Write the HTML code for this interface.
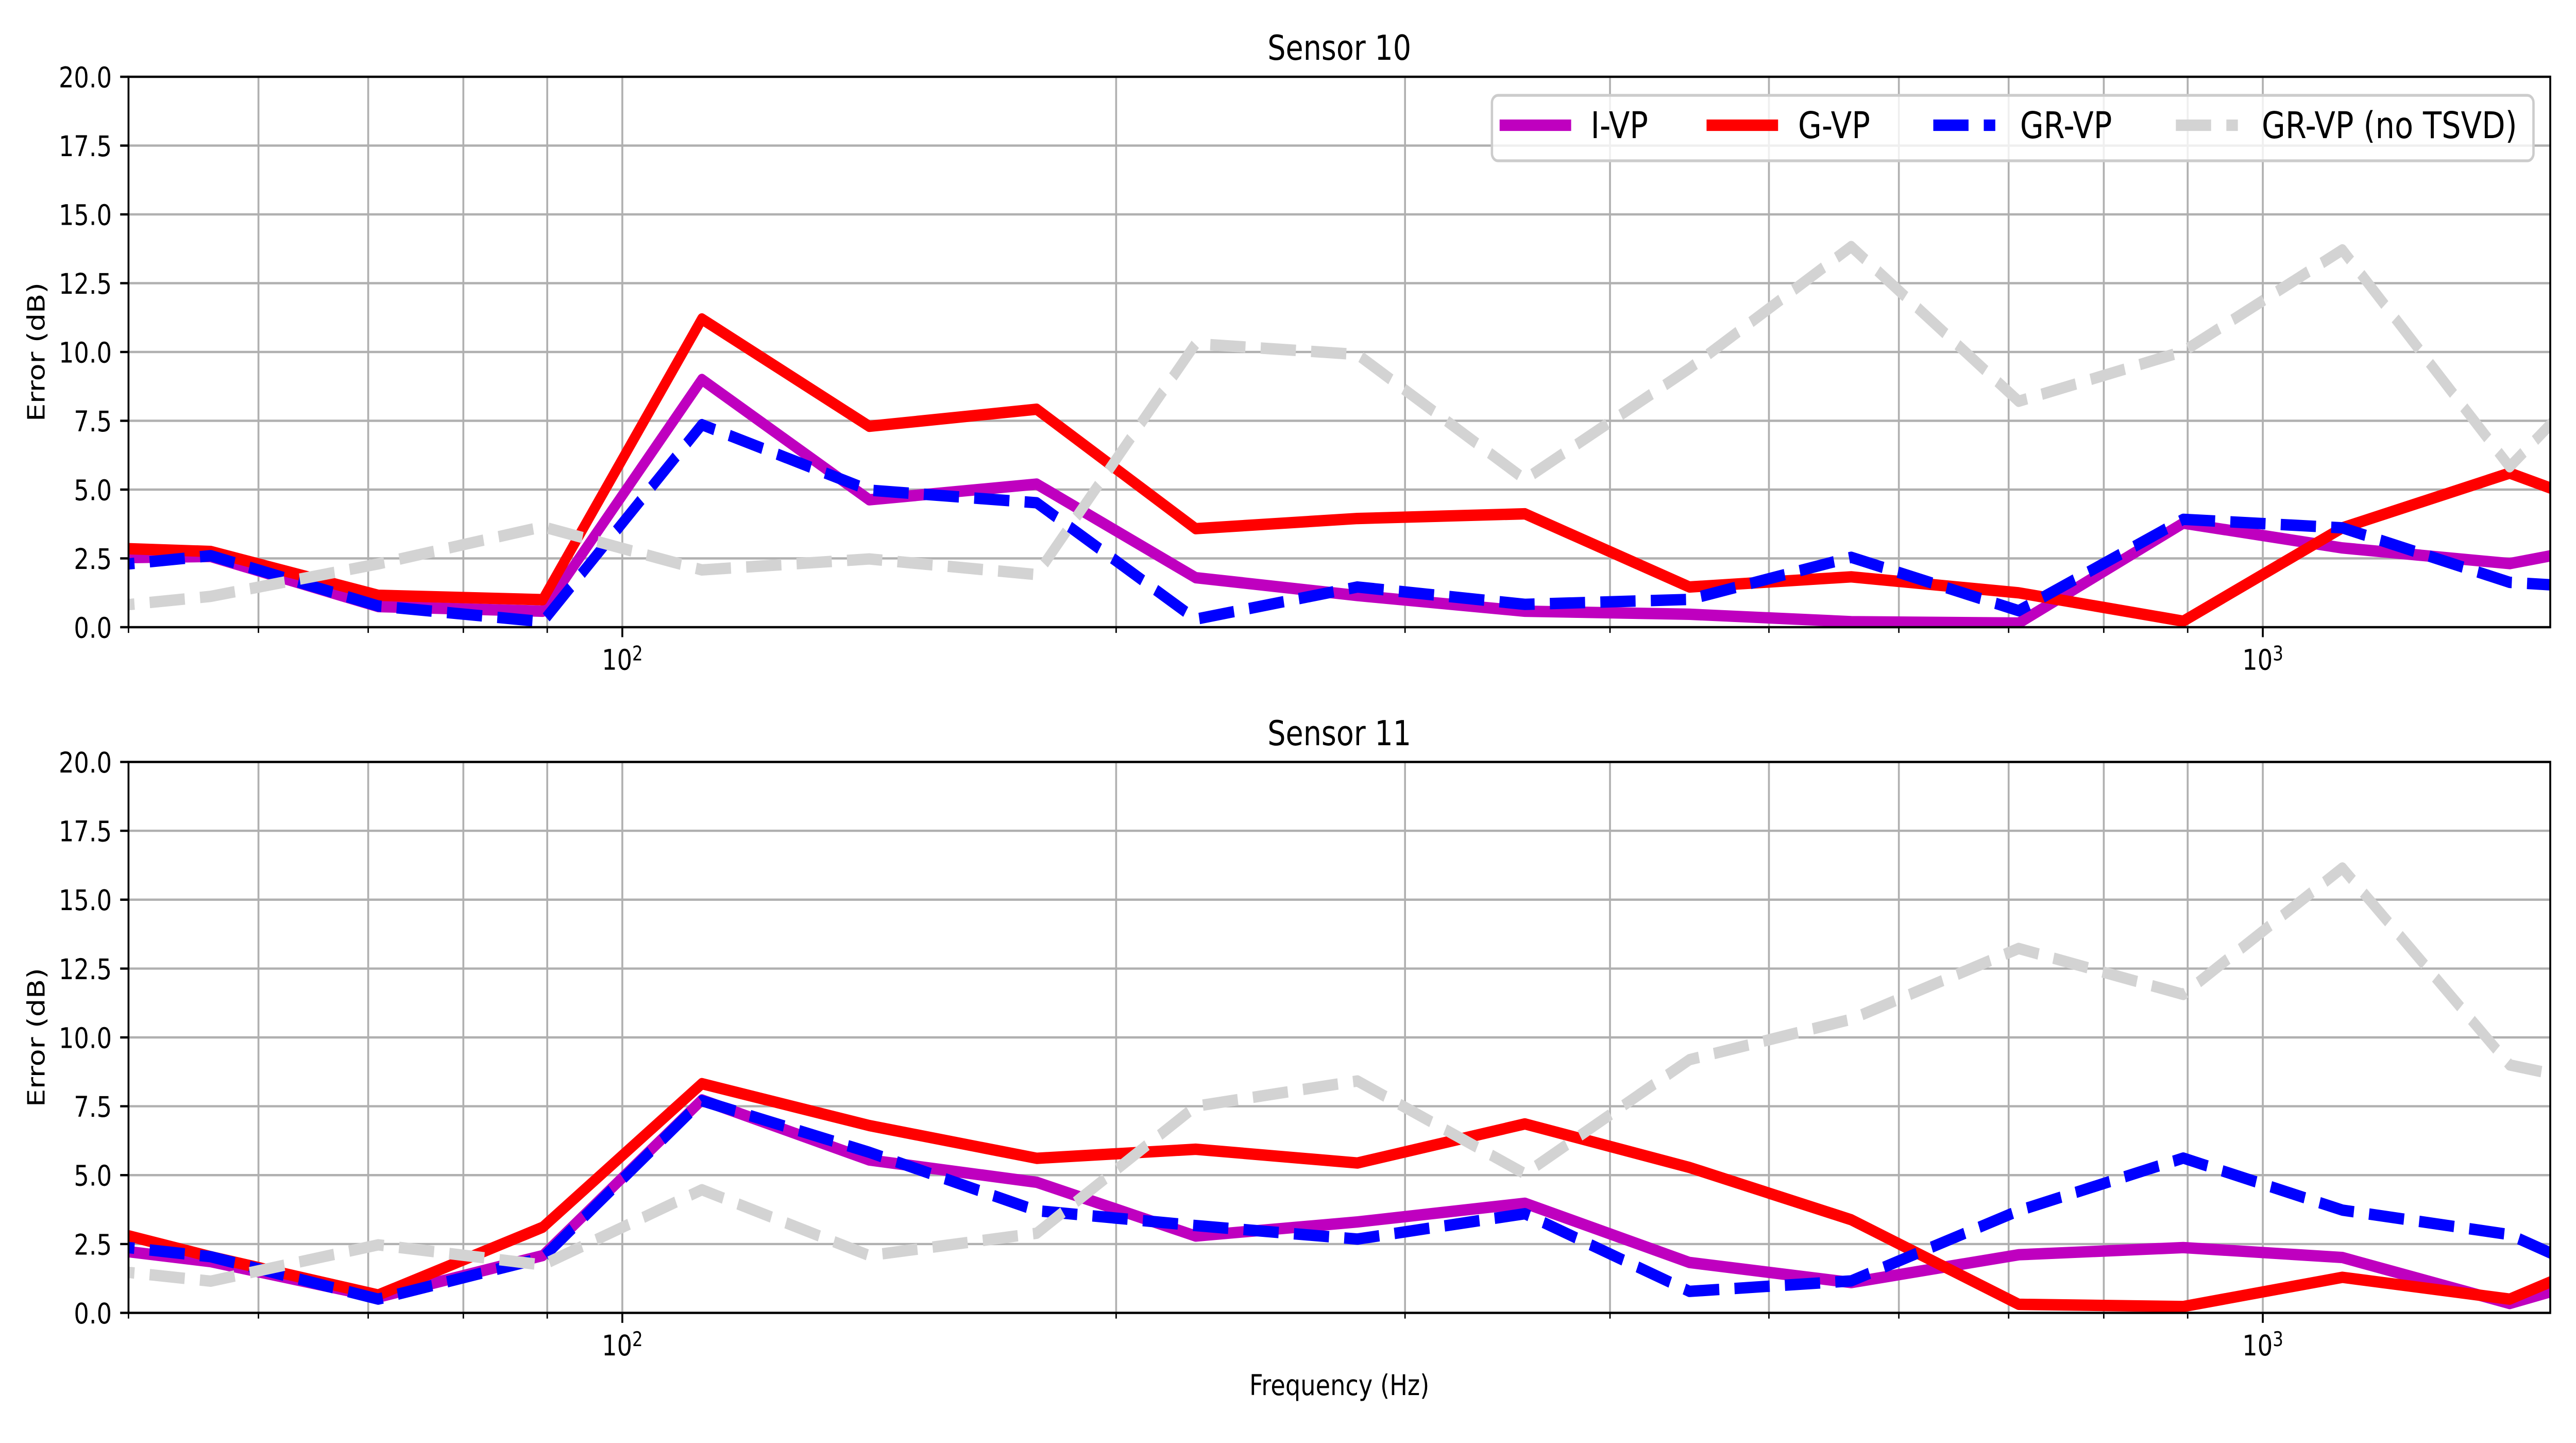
<!DOCTYPE html>
<html>
<head>
<meta charset="utf-8">
<style>
html,body{margin:0;padding:0;background:#fff;width:100%;height:100%;overflow:hidden;}
svg{display:block;width:100vw;height:100vh;}
text{font-family:"DejaVu Sans","Liberation Sans",sans-serif;fill:#000;}
</style>
</head>
<body>
<svg viewBox="0 0 6000 2800" preserveAspectRatio="none" xmlns="http://www.w3.org/2000/svg">
<rect x="0" y="0" width="6000" height="2800" fill="#fff"/>
<defs>
  <clipPath id="c1"><rect x="299.3" y="149" width="5640.7" height="1068"/></clipPath>
  <clipPath id="c2"><rect x="299.3" y="1478.5" width="5640.7" height="1069"/></clipPath>
</defs>

<!-- ============ TOP AXES ============ -->
<g stroke="#b0b0b0" stroke-width="4.4" fill="none">
  <line x1="299.3" x2="5940" y1="1217" y2="1217"/>
  <line x1="299.3" x2="5940" y1="1083.5" y2="1083.5"/>
  <line x1="299.3" x2="5940" y1="950" y2="950"/>
  <line x1="299.3" x2="5940" y1="816.5" y2="816.5"/>
  <line x1="299.3" x2="5940" y1="683" y2="683"/>
  <line x1="299.3" x2="5940" y1="549.5" y2="549.5"/>
  <line x1="299.3" x2="5940" y1="416" y2="416"/>
  <line x1="299.3" x2="5940" y1="282.5" y2="282.5"/>
  <line x1="299.3" x2="5940" y1="149" y2="149"/>
  <line y1="149" y2="1217" x1="602" x2="602"/>
  <line y1="149" y2="1217" x1="857.6" x2="857.6"/>
  <line y1="149" y2="1217" x1="1079.2" x2="1079.2"/>
  <line y1="149" y2="1217" x1="1274.6" x2="1274.6"/>
  <line y1="149" y2="1217" x1="1449.5" x2="1449.5"/>
  <line y1="149" y2="1217" x1="2599.7" x2="2599.7"/>
  <line y1="149" y2="1217" x1="3272.6" x2="3272.6"/>
  <line y1="149" y2="1217" x1="3750" x2="3750"/>
  <line y1="149" y2="1217" x1="4120.2" x2="4120.2"/>
  <line y1="149" y2="1217" x1="4422.8" x2="4422.8"/>
  <line y1="149" y2="1217" x1="4678.5" x2="4678.5"/>
  <line y1="149" y2="1217" x1="4900.1" x2="4900.1"/>
  <line y1="149" y2="1217" x1="5095.5" x2="5095.5"/>
  <line y1="149" y2="1217" x1="5270.5" x2="5270.5"/>
</g>

<g clip-path="url(#c1)" fill="none" stroke-width="22.2" stroke-linejoin="round">
  <polyline stroke="#bf00bf" stroke-linecap="square" points="114.2,1084 490.8,1079.8 880.9,1177 1264.2,1186 1634.8,736.4 2024.6,969.8 2414.7,939.3 2784.9,1120.9 3161.7,1155.6 3551.8,1186 3935,1191.9 4311.8,1206.3 4701.9,1209 5085.2,1015.1 5455.8,1063.2 5845.5,1093.6 6235.5,1031.7"/>
  <polyline stroke="#ff0000" stroke-linecap="square" points="114.2,1059.5 490.8,1070.1 880.9,1155.1 1264.2,1163.6 1634.8,618.9 2024.6,827.2 2414.7,794.1 2784.9,1025.8 3161.7,1006.1 3551.8,997 3935,1139 4311.8,1119.3 4701.9,1150.3 5085.2,1205.3 5455.8,1024.2 5845.5,918 6235.5,1037"/>
  <polyline stroke="#0000ff" stroke-linecap="butt" stroke-dasharray="82.1 35.5" points="114.2,1109.7 490.8,1078.2 880.9,1175.9 1264.2,1206.3 1634.8,824 2024.6,951.1 2414.7,975.6 2784.9,1201.5 3161.7,1139 3551.8,1172.7 3935,1163.1 4311.8,1081.4 4701.9,1185 5085.2,1007.7 5455.8,1024.2 5845.5,1130 6235.5,1149.7"/>
  <polyline stroke="#d3d3d3" stroke-linecap="butt" stroke-dasharray="82.1 35.5" points="114.2,1188.7 490.8,1157.2 880.9,1094.2 1264.2,1022.1 1634.8,1105.9 2024.6,1084.6 2414.7,1115 2784.9,667 3161.7,687.8 3551.8,930.2 3935,715 4311.8,478.5 4701.9,778.6 5085.2,681.9 5455.8,484.9 5845.5,905.7 6235.5,568.2"/>
</g>

<g stroke="#000" stroke-width="4.4">
  <line x1="279.9" x2="299.3" y1="1217" y2="1217"/>
  <line x1="279.9" x2="299.3" y1="1083.5" y2="1083.5"/>
  <line x1="279.9" x2="299.3" y1="950" y2="950"/>
  <line x1="279.9" x2="299.3" y1="816.5" y2="816.5"/>
  <line x1="279.9" x2="299.3" y1="683" y2="683"/>
  <line x1="279.9" x2="299.3" y1="549.5" y2="549.5"/>
  <line x1="279.9" x2="299.3" y1="416" y2="416"/>
  <line x1="279.9" x2="299.3" y1="282.5" y2="282.5"/>
  <line x1="279.9" x2="299.3" y1="149" y2="149"/>
  <line y1="1217" y2="1236.4" x1="1449.5" x2="1449.5"/>
  <line y1="1217" y2="1236.4" x1="5270.5" x2="5270.5"/>
</g>
<g stroke="#000" stroke-width="3.3">
  <line y1="1217" y2="1228.1" x1="299.3" x2="299.3"/>
  <line y1="1217" y2="1228.1" x1="602" x2="602"/>
  <line y1="1217" y2="1228.1" x1="857.6" x2="857.6"/>
  <line y1="1217" y2="1228.1" x1="1079.2" x2="1079.2"/>
  <line y1="1217" y2="1228.1" x1="1274.6" x2="1274.6"/>
  <line y1="1217" y2="1228.1" x1="2599.7" x2="2599.7"/>
  <line y1="1217" y2="1228.1" x1="3272.6" x2="3272.6"/>
  <line y1="1217" y2="1228.1" x1="3750" x2="3750"/>
  <line y1="1217" y2="1228.1" x1="4120.2" x2="4120.2"/>
  <line y1="1217" y2="1228.1" x1="4422.8" x2="4422.8"/>
  <line y1="1217" y2="1228.1" x1="4678.5" x2="4678.5"/>
  <line y1="1217" y2="1228.1" x1="4900.1" x2="4900.1"/>
  <line y1="1217" y2="1228.1" x1="5095.5" x2="5095.5"/>
</g>
<rect x="299.3" y="149" width="5640.7" height="1068" fill="none" stroke="#000" stroke-width="4.4"/>

<g font-size="55.6" text-anchor="end">
  <text x="260.5" y="1237.5">0.0</text>
  <text x="260.5" y="1104">2.5</text>
  <text x="260.5" y="970.5">5.0</text>
  <text x="260.5" y="837">7.5</text>
  <text x="260.5" y="703.5">10.0</text>
  <text x="260.5" y="570">12.5</text>
  <text x="260.5" y="436.5">15.0</text>
  <text x="260.5" y="303">17.5</text>
  <text x="260.5" y="169.5">20.0</text>
</g>
<g font-size="55.6" text-anchor="middle">
  <text x="1449.5" y="1299.5">10<tspan dy="-18" font-size="39">2</tspan></text>
  <text x="5270.5" y="1299.5">10<tspan dy="-18" font-size="39">3</tspan></text>
</g>
<text font-size="55.6" text-anchor="middle" transform="translate(104,683) rotate(-90)">Error (dB)</text>
<text x="3119.6" y="116" font-size="66.7" text-anchor="middle">Sensor 10</text>

<!-- legend -->
<rect x="3475" y="185" width="2426" height="127" rx="14.4" ry="14.4" fill="#ffffff" fill-opacity="0.8" stroke="#cccccc" stroke-width="5.5"/>
<g stroke-width="22.2" fill="none">
  <line x1="3504" x2="3648.4" y1="243" y2="243" stroke="#bf00bf" stroke-linecap="square"/>
  <line x1="3986" x2="4130.4" y1="243" y2="243" stroke="#ff0000" stroke-linecap="square"/>
  <line x1="4503" x2="4647.4" y1="243" y2="243" stroke="#0000ff" stroke-dasharray="82.1 35.5"/>
  <line x1="5068" x2="5212.4" y1="243" y2="243" stroke="#d3d3d3" stroke-dasharray="82.1 35.5"/>
</g>
<g font-size="71">
  <text x="3705" y="268">I-VP</text>
  <text x="4188" y="268">G-VP</text>
  <text x="4705" y="268">GR-VP</text>
  <text x="5268" y="268">GR-VP (no TSVD)</text>
</g>

<!-- ============ BOTTOM AXES ============ -->
<g stroke="#b0b0b0" stroke-width="4.4" fill="none">
  <line x1="299.3" x2="5940" y1="2547.5" y2="2547.5"/>
  <line x1="299.3" x2="5940" y1="2413.9" y2="2413.9"/>
  <line x1="299.3" x2="5940" y1="2280.25" y2="2280.25"/>
  <line x1="299.3" x2="5940" y1="2146.6" y2="2146.6"/>
  <line x1="299.3" x2="5940" y1="2013" y2="2013"/>
  <line x1="299.3" x2="5940" y1="1879.4" y2="1879.4"/>
  <line x1="299.3" x2="5940" y1="1745.75" y2="1745.75"/>
  <line x1="299.3" x2="5940" y1="1612.1" y2="1612.1"/>
  <line x1="299.3" x2="5940" y1="1478.5" y2="1478.5"/>
  <line y1="1478.5" y2="2547.5" x1="602" x2="602"/>
  <line y1="1478.5" y2="2547.5" x1="857.6" x2="857.6"/>
  <line y1="1478.5" y2="2547.5" x1="1079.2" x2="1079.2"/>
  <line y1="1478.5" y2="2547.5" x1="1274.6" x2="1274.6"/>
  <line y1="1478.5" y2="2547.5" x1="1449.5" x2="1449.5"/>
  <line y1="1478.5" y2="2547.5" x1="2599.7" x2="2599.7"/>
  <line y1="1478.5" y2="2547.5" x1="3272.6" x2="3272.6"/>
  <line y1="1478.5" y2="2547.5" x1="3750" x2="3750"/>
  <line y1="1478.5" y2="2547.5" x1="4120.2" x2="4120.2"/>
  <line y1="1478.5" y2="2547.5" x1="4422.8" x2="4422.8"/>
  <line y1="1478.5" y2="2547.5" x1="4678.5" x2="4678.5"/>
  <line y1="1478.5" y2="2547.5" x1="4900.1" x2="4900.1"/>
  <line y1="1478.5" y2="2547.5" x1="5095.5" x2="5095.5"/>
  <line y1="1478.5" y2="2547.5" x1="5270.5" x2="5270.5"/>
</g>

<g clip-path="url(#c2)" fill="none" stroke-width="22.2" stroke-linejoin="round">
  <polyline stroke="#bf00bf" stroke-linecap="square" points="114.2,2410.1 490.8,2448.1 880.9,2517 1264.2,2436.3 1634.8,2134.3 2024.6,2250.9 2414.7,2294.1 2784.9,2398.4 3161.7,2371.1 3551.8,2334.8 3935,2449.7 4311.8,2488.7 4701.9,2434.7 5085.2,2420.8 5455.8,2440.1 5845.5,2529.3 6235.5,2436.3"/>
  <polyline stroke="#ff0000" stroke-linecap="square" points="114.2,2358.8 490.8,2438.5 880.9,2512.8 1264.2,2381.3 1634.8,2102.8 2024.6,2184 2414.7,2247.6 2784.9,2230 3161.7,2256.7 3551.8,2180.8 3935,2265.3 4311.8,2366.8 4701.9,2530.9 5085.2,2535.2 5455.8,2478.5 5845.5,2520.8 6235.5,2383.9"/>
  <polyline stroke="#0000ff" stroke-linecap="butt" stroke-dasharray="82.1 35.5" points="114.2,2403.7 490.8,2438.5 880.9,2520.8 1264.2,2440.6 1634.8,2135.9 2024.6,2235.9 2414.7,2349.2 2784.9,2378.1 3161.7,2404.3 3551.8,2355.1 3935,2505.8 4311.8,2485.5 4701.9,2349.2 5085.2,2247.1 5455.8,2348.1 5845.5,2395.7 6235.5,2541.6"/>
  <polyline stroke="#d3d3d3" stroke-linecap="butt" stroke-dasharray="82.1 35.5" points="114.2,2452.4 490.8,2486 880.9,2415.5 1264.2,2454.5 1634.8,2308.6 2024.6,2436.3 2414.7,2393 2784.9,2146.6 3161.7,2097.5 3551.8,2277.6 3935,2056.3 4311.8,1977.7 4701.9,1840.4 5085.2,1929.6 5455.8,1684.3 5845.5,2066.4 6235.5,2134.9"/>
</g>

<g stroke="#000" stroke-width="4.4">
  <line x1="279.9" x2="299.3" y1="2547.5" y2="2547.5"/>
  <line x1="279.9" x2="299.3" y1="2413.9" y2="2413.9"/>
  <line x1="279.9" x2="299.3" y1="2280.25" y2="2280.25"/>
  <line x1="279.9" x2="299.3" y1="2146.6" y2="2146.6"/>
  <line x1="279.9" x2="299.3" y1="2013" y2="2013"/>
  <line x1="279.9" x2="299.3" y1="1879.4" y2="1879.4"/>
  <line x1="279.9" x2="299.3" y1="1745.75" y2="1745.75"/>
  <line x1="279.9" x2="299.3" y1="1612.1" y2="1612.1"/>
  <line x1="279.9" x2="299.3" y1="1478.5" y2="1478.5"/>
  <line y1="2547.5" y2="2566.9" x1="1449.5" x2="1449.5"/>
  <line y1="2547.5" y2="2566.9" x1="5270.5" x2="5270.5"/>
</g>
<g stroke="#000" stroke-width="3.3">
  <line y1="2547.5" y2="2558.6" x1="299.3" x2="299.3"/>
  <line y1="2547.5" y2="2558.6" x1="602" x2="602"/>
  <line y1="2547.5" y2="2558.6" x1="857.6" x2="857.6"/>
  <line y1="2547.5" y2="2558.6" x1="1079.2" x2="1079.2"/>
  <line y1="2547.5" y2="2558.6" x1="1274.6" x2="1274.6"/>
  <line y1="2547.5" y2="2558.6" x1="2599.7" x2="2599.7"/>
  <line y1="2547.5" y2="2558.6" x1="3272.6" x2="3272.6"/>
  <line y1="2547.5" y2="2558.6" x1="3750" x2="3750"/>
  <line y1="2547.5" y2="2558.6" x1="4120.2" x2="4120.2"/>
  <line y1="2547.5" y2="2558.6" x1="4422.8" x2="4422.8"/>
  <line y1="2547.5" y2="2558.6" x1="4678.5" x2="4678.5"/>
  <line y1="2547.5" y2="2558.6" x1="4900.1" x2="4900.1"/>
  <line y1="2547.5" y2="2558.6" x1="5095.5" x2="5095.5"/>
</g>
<rect x="299.3" y="1478.5" width="5640.7" height="1069" fill="none" stroke="#000" stroke-width="4.4"/>

<g font-size="55.6" text-anchor="end">
  <text x="260.5" y="2568">0.0</text>
  <text x="260.5" y="2434.4">2.5</text>
  <text x="260.5" y="2300.75">5.0</text>
  <text x="260.5" y="2167.1">7.5</text>
  <text x="260.5" y="2033.5">10.0</text>
  <text x="260.5" y="1899.9">12.5</text>
  <text x="260.5" y="1766.25">15.0</text>
  <text x="260.5" y="1632.6">17.5</text>
  <text x="260.5" y="1499">20.0</text>
</g>
<g font-size="55.6" text-anchor="middle">
  <text x="1449.5" y="2630">10<tspan dy="-18" font-size="39">2</tspan></text>
  <text x="5270.5" y="2630">10<tspan dy="-18" font-size="39">3</tspan></text>
</g>
<text font-size="55.6" text-anchor="middle" transform="translate(104,2013) rotate(-90)">Error (dB)</text>
<text x="3119.6" y="1446" font-size="66.7" text-anchor="middle">Sensor 11</text>
<text x="3119.6" y="2707" font-size="55.6" text-anchor="middle">Frequency (Hz)</text>
</svg>
</body>
</html>
